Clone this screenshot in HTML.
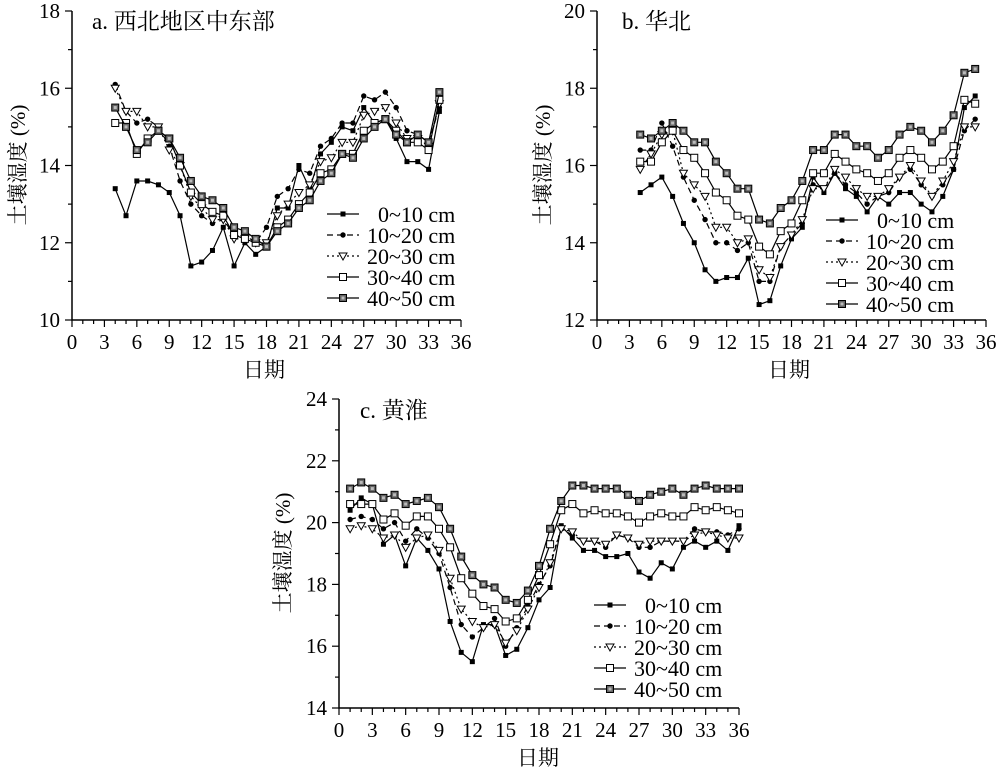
<!DOCTYPE html>
<html><head><meta charset="utf-8"><style>
body{margin:0;background:#fff;}
svg text{font-family:"Liberation Serif","Noto Serif CJK SC",serif;fill:#000;}
</style></head><body>
<svg id="s" width="1000" height="767" xmlns="http://www.w3.org/2000/svg"></svg>
<script>
const S=document.getElementById('s');let h='';
const D={
a:{x0:72,x1:461,yt:11,yb:320,vmin:10,vmax:18,start:4,title:"a. 西北地区中东部",tx:92,ty:29,yl:[18,165],xl:[264,377],lg:[327,214],
s:[[13.4,12.7,13.6,13.6,13.5,13.3,12.7,11.4,11.5,11.8,12.4,11.4,12.0,11.7,11.9,12.9,12.9,14.0,13.4,14.3,14.6,15.0,14.9,15.5,15.1,15.2,14.7,14.1,14.1,13.9,15.4],
[16.1,15.4,15.1,15.2,15.0,14.5,13.6,13.0,12.7,12.5,12.6,12.2,12.2,12.0,12.4,13.2,13.4,13.9,13.8,14.5,14.7,15.1,15.1,15.8,15.7,15.9,15.5,14.9,14.8,14.6,15.5],
[16.0,15.4,15.4,15.0,15.0,14.4,14.0,13.2,12.9,12.6,12.6,12.1,12.1,12.0,12.0,12.7,13.0,13.3,13.5,14.1,14.2,14.6,14.6,15.3,15.4,15.5,15.1,14.7,14.7,14.5,15.6],
[15.1,15.1,14.3,14.7,14.9,14.7,14.0,13.3,13.0,12.8,12.7,12.2,12.1,12.0,11.9,12.4,12.6,13.0,13.3,13.8,13.9,14.3,14.3,14.9,15.1,15.2,14.9,14.6,14.6,14.4,15.7],
[15.5,15.0,14.4,14.6,14.9,14.7,14.2,13.6,13.2,13.1,12.9,12.4,12.3,12.1,11.9,12.3,12.5,12.9,13.1,13.6,13.8,14.3,14.2,14.7,15.0,15.2,14.8,14.6,14.8,14.6,15.9]]},
b:{x0:597,x1:986,yt:11,yb:320,vmin:12,vmax:20,start:4,title:"b. 华北",tx:622,ty:29,yl:[543,165],xl:[789,377],lg:[826,220],
s:[[15.3,15.5,15.7,15.2,14.5,14.0,13.3,13.0,13.1,13.1,13.6,12.4,12.5,13.4,14.1,14.4,15.7,15.3,15.8,15.4,15.2,14.8,15.2,15.0,15.3,15.3,15.0,14.8,15.2,15.9,17.5,17.8],
[16.4,16.4,17.1,16.5,15.7,15.1,14.6,14.0,14.0,13.8,14.0,13.0,13.0,13.9,14.2,14.5,15.5,15.4,15.8,15.5,15.3,15.0,15.2,15.3,15.7,15.9,15.5,15.2,15.5,15.9,16.9,17.2],
[15.9,16.3,16.8,16.9,15.8,15.5,15.2,14.4,14.4,14.0,14.1,13.3,13.1,13.9,14.2,14.6,15.4,15.4,15.9,15.7,15.4,15.2,15.2,15.4,15.7,16.0,15.6,15.2,15.6,16.1,17.0,17.0],
[16.1,16.1,16.6,16.9,16.4,16.2,15.8,15.3,15.1,14.7,14.6,13.9,13.7,14.3,14.5,15.1,15.8,15.8,16.3,16.1,15.9,15.8,15.6,15.8,16.2,16.4,16.2,15.9,16.1,16.5,17.7,17.6],
[16.8,16.7,16.9,17.1,16.9,16.6,16.6,16.1,15.8,15.4,15.4,14.6,14.5,14.9,15.1,15.6,16.4,16.4,16.8,16.8,16.5,16.5,16.2,16.4,16.8,17.0,16.9,16.6,16.9,17.3,18.4,18.5]]},
c:{x0:339,x1:739,yt:399,yb:708,vmin:14,vmax:24,start:1,title:"c. 黄淮",tx:360,ty:418,yl:[283,553],xl:[538,765],lg:[594,605],
s:[[20.4,20.8,20.6,19.3,19.6,18.6,19.5,19.1,18.5,16.8,15.8,15.5,16.7,16.7,15.7,15.9,16.6,17.5,17.9,19.9,19.5,19.1,19.1,18.9,18.9,19.0,18.4,18.2,18.7,18.5,19.2,19.4,19.2,19.4,19.1,19.9],
[20.1,20.2,20.1,19.8,20.0,19.4,19.8,19.5,19.0,17.9,16.7,16.3,16.6,16.9,16.0,16.6,17.3,18.0,18.6,19.8,19.6,19.4,19.4,19.2,19.6,19.5,19.2,19.2,19.4,19.4,19.4,19.8,19.7,19.7,19.6,19.8],
[19.8,19.9,19.8,19.5,19.6,19.2,19.5,19.6,19.1,18.2,17.2,16.8,16.6,16.7,16.1,16.5,17.2,17.9,18.7,19.8,19.7,19.4,19.4,19.3,19.6,19.5,19.3,19.4,19.4,19.4,19.4,19.6,19.7,19.6,19.5,19.5],
[20.6,20.6,20.6,20.1,20.3,19.9,20.2,20.2,19.8,19.2,18.2,17.7,17.3,17.2,16.8,16.9,17.5,18.3,19.3,20.4,20.6,20.3,20.4,20.3,20.3,20.2,20.0,20.2,20.3,20.2,20.2,20.5,20.4,20.5,20.4,20.3],
[21.1,21.3,21.1,20.8,20.9,20.6,20.7,20.8,20.5,19.8,18.9,18.3,18.0,17.9,17.5,17.4,17.8,18.6,19.8,20.7,21.2,21.2,21.1,21.1,21.1,20.9,20.7,20.9,21.0,21.1,20.9,21.1,21.2,21.1,21.1,21.1]]}
};
const dash=['', '6,4','2,3','',''];
const names=['0~10 cm','10~20 cm','20~30 cm','30~40 cm','40~50 cm'];
function mk(t,x,y){
 if(t==0)return `<rect x="${x-2.5}" y="${y-2.5}" width="5" height="5" fill="#000"/>`;
 if(t==1)return `<circle cx="${x}" cy="${y}" r="2.7" fill="#000"/>`;
 if(t==2)return `<path d="M${x-4},${y-3}L${x+4},${y-3}L${x},${y+4}Z" fill="#fff" stroke="#000" stroke-width="1"/>`;
 if(t==3)return `<rect x="${x-3.5}" y="${y-3.5}" width="7" height="7" fill="#fff" stroke="#000" stroke-width="1"/>`;
 return `<rect x="${x-3.5}" y="${y-3.5}" width="7" height="7" fill="#666" stroke="#000" stroke-width="1"/><rect x="${x-1.5}" y="${y-1.5}" width="3" height="3" fill="#bbb"/>`;
}
for(const k in D){const p=D[k];
 const X=v=>p.x0+(p.x1-p.x0)*v/36, Y=v=>p.yb-(p.yb-p.yt)*(v-p.vmin)/(p.vmax-p.vmin);
 h+=`<path d="M${p.x0},${p.yt}V${p.yb}H${p.x1}" fill="none" stroke="#000" stroke-width="1.5"/>`;
 for(let i=0;i<=36;i++){const x=X(i);h+=`<line x1="${x}" y1="${p.yb}" x2="${x}" y2="${p.yb+(i%3?4:7)}" stroke="#000" stroke-width="1.2"/>`;
  if(i%3==0)h+=`<text x="${x}" y="${p.yb+29}" font-size="21" text-anchor="middle">${i}</text>`;}
 for(let v=p.vmin;v<=p.vmax;v++){const y=Y(v);h+=`<line x1="${p.x0}" y1="${y}" x2="${p.x0-((v-p.vmin)%2?4:7)}" y2="${y}" stroke="#000" stroke-width="1.2"/>`;
  if((v-p.vmin)%2==0)h+=`<text x="${p.x0-12}" y="${y+7}" font-size="21" text-anchor="end">${v}</text>`;}
 h+=`<text x="${p.tx}" y="${p.ty}" font-size="23">${p.title}</text>`;
 h+=`<text transform="translate(${p.yl[0]+7},${p.yl[1]}) rotate(-90)" font-size="21" text-anchor="middle">土壤湿度 (%)</text>`;
 h+=`<text x="${p.xl[0]}" y="${p.xl[1]}" font-size="21" text-anchor="middle">日期</text>`;
 p.s.forEach((s,j)=>{let d=s.map((v,i)=>(i?'L':'M')+X(p.start+i).toFixed(1)+','+Y(v).toFixed(1)).join('');
  h+=`<path d="${d}" fill="none" stroke="#000" stroke-width="1.2" ${dash[j]?`stroke-dasharray="${dash[j]}"`:''}/>`;
  s.forEach((v,i)=>h+=mk(j,X(p.start+i),Y(v)));
  const ly=p.lg[1]+j*21;
  h+=`<line x1="${p.lg[0]}" y1="${ly}" x2="${p.lg[0]+32}" y2="${ly}" stroke="#000" stroke-width="1.2" ${dash[j]?`stroke-dasharray="${dash[j]}"`:''}/>`+mk(j,p.lg[0]+16,ly);
  h+=`<text x="${p.lg[0]+(j==0?51:40)}" y="${ly+8}" font-size="22">${names[j]}</text>`;
 });
}
S.innerHTML=h;
</script>
</body></html>
